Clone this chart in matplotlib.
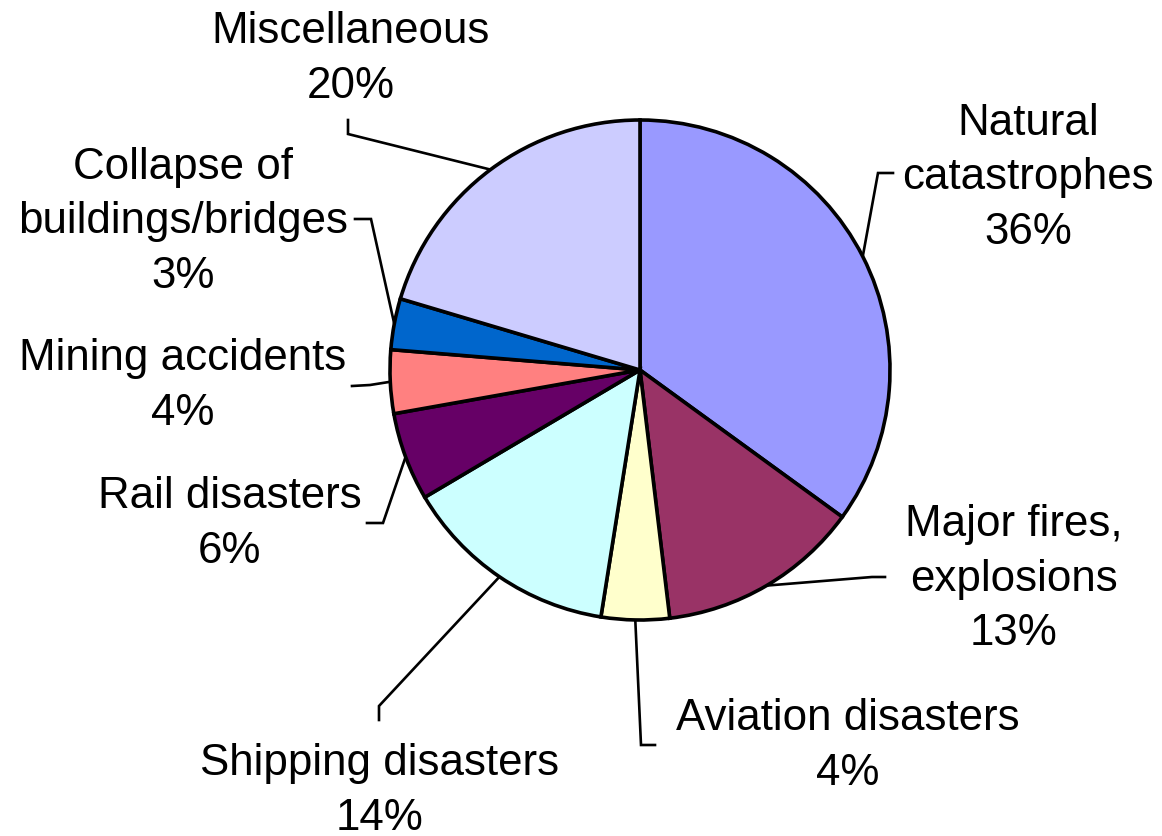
import numpy as np
import matplotlib.pyplot as plt

plt.rcParams["font.family"] = ["Liberation Sans", "DejaVu Sans"]

# slices, clockwise from 12 o'clock
categories = ["Natural\ncatastrophes", "Major fires,\nexplosions", "Aviation disasters",
              "Shipping disasters", "Rail disasters", "Mining accidents",
              "Collapse of\nbuildings/bridges", "Miscellaneous"]
shares = [35.0, 13.1, 4.4, 14.0, 5.7, 4.1, 3.3, 20.4]
pct_labels = ["36%", "13%", "4%", "14%", "6%", "4%", "3%", "20%"]
colors = ["#9999FF", "#993366", "#FFFFCC", "#CCFFFF", "#660066", "#FF8080", "#0066CC", "#CCCCFF"]

W, H = 1162, 836
fig = plt.figure(figsize=(W / 100, H / 100), dpi=100)
ax = fig.add_axes([0, 0, 1, 1])

cx, cy, R = 640, H - 370, 250
wedges, _ = ax.pie(shares, colors=colors, startangle=90, counterclock=False,
                   center=(cx, cy), radius=R,
                   wedgeprops=dict(edgecolor="black", linewidth=2.6))
ax.set_xlim(0, W)
ax.set_ylim(0, H)
ax.set_aspect("equal")
ax.axis("off")

# layout in picture pixels (y down): label centre and leader elbow points
label_pos = [(1028, 178), (1014, 579), (848, 746), (380, 791),
             (230, 524), (183, 386), (183, 222), (351, 59)]
leader_pts = [[(893, 173), (878, 173)], [(885, 577), (872, 577)],
              [(655, 745), (641, 745)], [(379, 720), (379, 706)],
              [(367, 523), (383, 523)], [(352, 386), (370, 385)],
              [(355, 219), (371, 219)], [(348, 120), (348, 134)]]

for w, name, pct, (tx, ty), pts in zip(wedges, categories, pct_labels, label_pos, leader_pts):
    mid = np.deg2rad((w.theta1 + w.theta2) / 2)
    rim = (cx + R * np.cos(mid), cy + R * np.sin(mid))
    xs = [p[0] for p in pts] + [rim[0]]
    ys = [H - p[1] for p in pts] + [rim[1]]
    ax.plot(xs, ys, color="black", lw=1.9, zorder=0, solid_joinstyle="miter")
    ax.text(tx, H - ty, name + "\n" + pct, ha="center", va="center",
            fontsize=31.6, linespacing=1.41)

fig.savefig("out.png", dpi=100)
